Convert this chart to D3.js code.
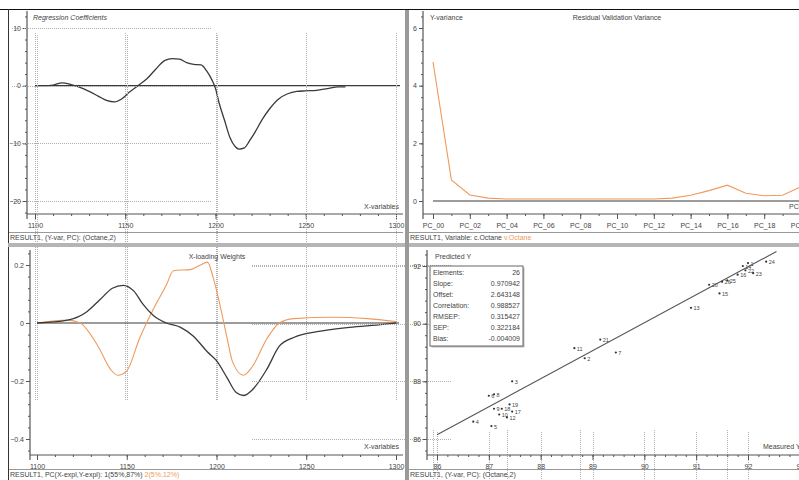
<!DOCTYPE html>
<html><head><meta charset="utf-8">
<script src="https://cdn.jsdelivr.net/npm/d3@7"></script>
<style>
html,body{margin:0;padding:0;background:#fff;overflow:hidden;}
svg{display:block;font-family:'Liberation Sans',Arial,sans-serif;}
</style></head><body>
<svg id="c" width="799" height="480"></svg>
<script>
// ---------- data ----------
const coefWave = [1100,1105,1110,1115,1120,1125,1130,1135,1140,1144,1148,1152,1157,1162,1167,1172,1176,1180,1184,1188,1192,1195,1198,1200,1202,1205,1208,1211,1213,1216,1219,1222,1226,1230,1235,1240,1245,1250,1256,1262,1268,1272];
const coefValues = [0,0,0.1,0.5,0.2,-0.3,-1.0,-1.8,-2.6,-2.8,-2.3,-1.2,0,1.2,2.9,4.4,4.7,4.6,4.0,3.7,3.6,2.6,1.0,-0.5,-3.0,-6.0,-9.0,-10.6,-11.0,-10.8,-9.5,-8.0,-5.8,-4.0,-2.3,-1.4,-1.0,-0.9,-0.8,-0.5,-0.2,-0.2];

const pcIndex = [0,1,2,3,4,5,6,7,8,9,10,11,12,13,14,15,16,17,18,19,20];
const pcLabels = ["PC_00","PC_02","PC_04","PC_06","PC_08","PC_10","PC_12","PC_14","PC_16","PC_18","PC_20"];
const residValVariance = [4.82,0.73,0.21,0.1,0.07,0.07,0.07,0.07,0.07,0.07,0.07,0.07,0.07,0.1,0.2,0.36,0.55,0.27,0.18,0.2,0.5];

const loadWave1 = [1100,1117,1128,1135,1142,1148,1154,1159,1165,1172,1180,1187,1195,1200,1206,1211,1215,1220,1228,1235,1243,1256,1274,1293,1300];
const loadPC1 = [0,0.01,0.04,0.08,0.12,0.13,0.11,0.065,0.025,0,-0.015,-0.045,-0.1,-0.13,-0.19,-0.24,-0.25,-0.23,-0.16,-0.08,-0.05,-0.03,-0.015,-0.005,0];
const loadWave2 = [1100,1117,1124,1134,1141,1145,1150,1157,1165,1172,1176,1186,1191,1195,1198,1202,1206,1209,1215,1220,1228,1235,1243,1265,1284,1300];
const loadPC2 = [0,0.01,0,-0.08,-0.16,-0.18,-0.165,-0.055,0.05,0.13,0.18,0.185,0.2,0.21,0.16,0.06,-0.055,-0.135,-0.18,-0.15,-0.055,0,0.015,0.02,0.015,0.005];

const sampleIds = ["1","2","3","4","5","6","7","8","9","10","11","12","13","14","15","16","17","18","19","20","21","22","23","24","25","26"];
const measuredY = [92.0,88.85,87.45,86.7,87.05,87.0,89.45,87.1,87.1,87.2,88.65,87.35,90.9,91.9,91.45,91.8,87.45,87.25,87.4,91.25,89.15,91.95,92.1,92.35,91.6,91.5];
const predictedY = [92.1,88.8,88.0,86.6,86.45,87.5,89.0,87.55,87.05,86.85,89.15,86.75,90.55,92.0,91.05,91.7,86.95,87.05,87.2,91.35,89.45,91.85,91.75,92.15,91.5,91.45];

const statNames = ["Elements:","Slope:","Offset:","Correlation:","RMSEP:","SEP:","Bias:"];
const statValues = ["26","0.970942","2.643148","0.988527","0.315427","0.322184","-0.004009"];
const fitSlope = 0.970942, fitOffset = 2.643148;

// ---------- drawing ----------
const svg = d3.select("#c");
const FS = 7, TXT = "#444", GRID = "#b0b0b0", ORANGE = "#ef9a5c", DARK = "#3a3a3a";
svg.append("rect").attr("width",799).attr("height",480).attr("fill","#fff");
const snap = v => Math.round(v) + 0.5;

function grid(g, x, y, xv, yv, xr, yr){
  xv.forEach(v=>g.append("line").attr("x1",snap(x(v))).attr("x2",snap(x(v))).attr("y1",yr[0]).attr("y2",yr[1])
    .attr("stroke",GRID).attr("stroke-width",1).attr("stroke-dasharray","1,1"));
  yv.forEach(v=>g.append("line").attr("y1",snap(y(v))).attr("y2",snap(y(v))).attr("x1",xr[0]).attr("x2",xr[1])
    .attr("stroke",GRID).attr("stroke-width",1).attr("stroke-dasharray","1,1"));
}
function styleAxis(a){
  a.select(".domain").remove();
  a.selectAll(".tick line").attr("stroke","#555");
  a.selectAll(".tick text").attr("fill",TXT).attr("font-size",FS).attr("font-family","'Liberation Sans',Arial,sans-serif");
}
function axes(o){
  const g = svg.append("g");
  g.append("line").attr("x1",o.ax).attr("x2",o.ax).attr("y1",o.yTop).attr("y2",o.ay+5).attr("stroke","#555").attr("stroke-width",1.2);
  g.append("line").attr("x1",o.ax).attr("x2",o.xRight).attr("y1",o.ay).attr("y2",o.ay).attr("stroke","#555").attr("stroke-width",1.2);
  const ya = g.append("g").attr("transform",`translate(${o.ax},0)`)
    .call(d3.axisLeft(o.y).tickValues(o.yMaj).tickSize(4).tickPadding(2).tickFormat(o.yFmt));
  styleAxis(ya);
  const ym = g.append("g").attr("transform",`translate(${o.ax},0)`)
    .call(d3.axisLeft(o.y).tickValues(o.yMin).tickSize(2).tickFormat(""));
  styleAxis(ym);
  const xa = g.append("g").attr("transform",`translate(0,${o.ay})`)
    .call(d3.axisBottom(o.x).tickValues(o.xMaj).tickSize(5).tickPadding(4).tickFormat(o.xFmt));
  styleAxis(xa);
  const xm = g.append("g").attr("transform",`translate(0,${o.ay})`)
    .call(d3.axisBottom(o.x).tickValues(o.xMin).tickSize(2).tickFormat(""));
  styleAxis(xm);
  return g;
}
function text(x,y,s,opt={}){
  return svg.append("text").attr("x",x).attr("y",y).text(s).attr("font-size",opt.fs||FS)
    .attr("fill",opt.fill||TXT).attr("text-anchor",opt.anchor||"start")
    .attr("font-style",opt.italic?"italic":"normal");
}
function statusBar(x0,x1,yTop,parts){
  svg.append("line").attr("x1",x0).attr("x2",x1).attr("y1",yTop+0.5).attr("y2",yTop+0.5).attr("stroke","#999");
  let t = svg.append("text").attr("x",x0+2).attr("y",yTop+8).attr("font-size",FS);
  parts.forEach(p=>t.append("tspan").text(p.t).attr("fill",p.c||TXT));
}
const rng = (a,b,s)=>d3.range(a,b+s/2,s);

// ----- Top-left: Regression Coefficients -----
{
  const x = d3.scaleLinear([1100,1300],[35,396]);
  const y = d3.scaleLinear([-20,10],[201,28]);
  const g = svg.append("g");
  grid(g,x,y,[1100,1150,1200,1250,1300],[10,-10,-20],[12,212],[33,400]);
  axes({x,y,ax:27,ay:214,yTop:11,xRight:403,xMaj:[1100,1150,1200,1250,1300],
    xMin:rng(1100,1300,10),yMaj:[10,0,-10,-20],yMin:rng(-22,12,2),xFmt:d3.format("d"),yFmt:d3.format("d")});
  g.append("line").attr("x1",x(1100)).attr("x2",400).attr("y1",y(0)).attr("y2",y(0)).attr("stroke",DARK).attr("stroke-width",1.2);
  const line = d3.line().x((d,i)=>x(coefWave[i])).y(d=>y(d)).curve(d3.curveMonotoneX);
  g.append("path").attr("d",line(coefValues)).attr("fill","none").attr("stroke",DARK).attr("stroke-width",1.3);
  text(33,20,"Regression Coefficients",{italic:true});
  text(399,209,"X-variables",{anchor:"end"});
  statusBar(8,403,232,[{t:"RESULT1, (Y-var, PC): (Octane,2)"}]);
}

// ----- Top-right: Residual Validation Variance -----
{
  const x = d3.scaleLinear([0,20],[433,801]);
  const y = d3.scaleLinear([0,6],[201,28]);
  const g = svg.append("g");
  grid(g,x,y,[0,4,8,12,16,20],[6,4,2],[12,212],[430,799]);
  axes({x,y,ax:423,ay:214,yTop:11,xRight:799,xMaj:[0,2,4,6,8,10,12,14,16,18,20],
    xMin:pcIndex,yMaj:[6,4,2,0],yMin:rng(0,6.4,0.4),xFmt:(d,i)=>pcLabels[i],yFmt:d3.format("d")});
  g.append("line").attr("x1",x(0)).attr("x2",799).attr("y1",y(0)).attr("y2",y(0)).attr("stroke",DARK).attr("stroke-width",1.2);
  const line = d3.line().x((d,i)=>x(pcIndex[i])).y(d=>y(d));
  g.append("path").attr("d",line(residValVariance)).attr("fill","none").attr("stroke",ORANGE).attr("stroke-width",1.1);
  text(430,20,"Y-variance");
  text(617,20,"Residual Validation Variance",{anchor:"middle"});
  text(789,209,"PCs");
  statusBar(408,799,232,[{t:"RESULT1, Variable:  c.Octane  "},{t:"v.Octane",c:ORANGE}]);
}

// ----- Bottom-left: X-loading Weights -----
{
  const x = d3.scaleLinear([1100,1300],[37,396]);
  const y = d3.scaleLinear([-0.4,0.2],[439,265]);
  const g = svg.append("g");
  grid(g,x,y,[1100,1150,1200,1250,1300],[0.2,-0.2,-0.4],[252,452],[35,400]);
  axes({x,y,ax:30,ay:455,yTop:250,xRight:403,xMaj:[1100,1150,1200,1250,1300],
    xMin:rng(1100,1300,10),yMaj:[0.2,0,-0.2,-0.4],yMin:rng(-0.44,0.24,0.04),xFmt:d3.format("d"),yFmt:d=>d===0?"0":d3.format(".1f")(d)});
  g.append("line").attr("x1",x(1100)).attr("x2",399).attr("y1",y(0)).attr("y2",y(0)).attr("stroke",DARK).attr("stroke-width",1.2);
  const l1 = d3.line().x((d,i)=>x(loadWave1[i])).y(d=>y(d)).curve(d3.curveMonotoneX);
  const l2 = d3.line().x((d,i)=>x(loadWave2[i])).y(d=>y(d)).curve(d3.curveMonotoneX);
  g.append("path").attr("d",l2(loadPC2)).attr("fill","none").attr("stroke",ORANGE).attr("stroke-width",1.1);
  g.append("path").attr("d",l1(loadPC1)).attr("fill","none").attr("stroke",DARK).attr("stroke-width",1.3);
  text(217,259,"X-loading Weights",{anchor:"middle"});
  text(399,449,"X-variables",{anchor:"end"});
  statusBar(8,403,469,[{t:"RESULT1, PC(X-expl,Y-expl): 1(55%,87%)  "},{t:"2(5%,12%)",c:ORANGE}]);
}

// ----- Bottom-right: Predicted vs Measured -----
{
  const x = d3.scaleLinear([86,92],[437,748]);
  const y = d3.scaleLinear([86,92],[439,266]);
  const g = svg.append("g");
  grid(g,x,y,[86,87,88,89,90,91,92,93],[92,90,88,86],[252,452],[432,799]);
  axes({x,y,ax:427,ay:455,yTop:250,xRight:799,xMaj:[86,87,88,89,90,91,92,93],
    xMin:rng(86,93,0.2),yMaj:[92,90,88,86],yMin:rng(85.6,92.4,0.4),xFmt:d3.format("d"),yFmt:d3.format("d")});
  const xe = 92.55;
  g.append("line").attr("x1",x(86)).attr("y1",y(fitSlope*86+fitOffset))
    .attr("x2",x(xe)).attr("y2",y(fitSlope*xe+fitOffset)).attr("stroke","#555").attr("stroke-width",1.1);
  sampleIds.forEach((s,i)=>{
    const px = x(measuredY[i]), py = y(predictedY[i]);
    g.append("circle").attr("cx",px).attr("cy",py).attr("r",1.1).attr("fill","#333");
    g.append("text").attr("x",px+2.5).attr("y",py+2.5).text(s).attr("font-size",5.5).attr("fill","#444");
  });
  const bx=430, by=266, bw=93, bh=80;
  g.append("rect").attr("x",bx+1.5).attr("y",by+1.5).attr("width",bw).attr("height",bh).attr("fill","#bbb");
  g.append("rect").attr("x",bx).attr("y",by).attr("width",bw).attr("height",bh).attr("fill","#fff").attr("stroke","#666");
  statNames.forEach((n,i)=>{
    text(bx+3,by+9+i*11,n);
    text(bx+bw-3,by+9+i*11,statValues[i],{anchor:"end"});
  });
  text(435,259,"Predicted Y");
  text(763,449,"Measured Y");
  statusBar(408,799,469,[{t:"RESULT1, (Y-var, PC): (Octane,2)"}]);
}

// ----- frames -----
svg.append("line").attr("x1",0).attr("x2",799).attr("y1",9.5).attr("y2",9.5).attr("stroke","#111").attr("stroke-width",1.2);
svg.append("line").attr("x1",8.5).attr("x2",8.5).attr("y1",9).attr("y2",480).attr("stroke","#333");
svg.append("rect").attr("x",405).attr("y",10).attr("width",4).attr("height",470).attr("fill","#9a9a9a");
svg.append("rect").attr("x",8).attr("y",243).attr("width",791).attr("height",4).attr("fill","#b5b5b5");
svg.append("rect").attr("x",405).attr("y",243).attr("width",4).attr("height",4).attr("fill","#9a9a9a");
</script>
</body></html>
